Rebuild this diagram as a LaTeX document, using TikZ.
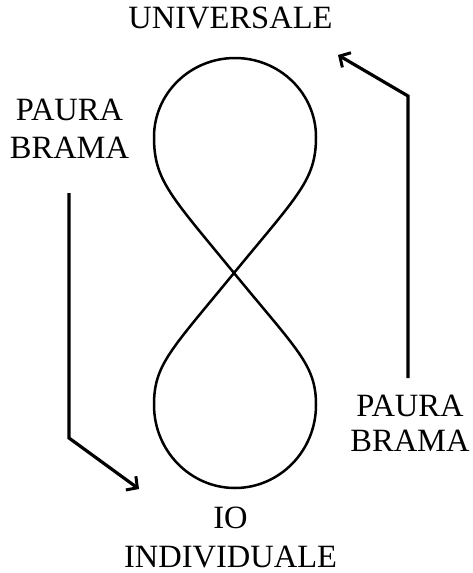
\documentclass[tikz,border=0pt]{standalone}
\usepackage{fontspec}
\setmainfont{Liberation Serif}
\usetikzlibrary{arrows.meta}
\begin{document}
\begin{tikzpicture}[x=1pt,y=-1pt,
  lbl/.style={anchor=base,inner sep=0pt,font=\fontsize{32.5}{38}\selectfont},
  eight/.style={line width=2.5pt,line join=round},
  arr/.style={line width=3.2pt,line join=miter,-{Straight Barb[length=8pt,width=17pt,line width=3pt]}}]
\useasboundingbox (0,0) rectangle (472,573);
% figure eight
\coordinate (C) at (234,273);
\coordinate (L) at (154,137);
\coordinate (T) at (235,58);
\coordinate (R) at (316,137);
\coordinate (LL) at (154,405);
\coordinate (B) at (235,488);
\coordinate (RR) at (316,405);
\draw[eight] (C) .. controls (170,195) and (154,180) .. (L)
  .. controls (154,93.4) and (190.3,58) .. (T)
  .. controls (279.7,58) and (316,93.4) .. (R)
  .. controls (316,180) and (298,195) .. (C)
  .. controls (170,351) and (154,365) .. (LL)
  .. controls (154,450.8) and (190.3,488) .. (B)
  .. controls (279.7,488) and (316,450.8) .. (RR)
  .. controls (316,365) and (298,351) .. (C) -- cycle;
% labels
\node[lbl] (univ) at (230.5,28.3) {UNIVERSALE};
\node[lbl] (pl1) at (69.5,120) {PAURA};
\node[lbl] (pl2) at (69.5,158) {BRAMA};
\node[lbl] (pr1) at (410,416.7) {PAURA};
\node[lbl] (pr2) at (410,451.7) {BRAMA};
\node[lbl] (io) at (230.5,528) {IO};
\node[lbl] (ind) at (230.5,567) {INDIVIDUALE};
% arrows
\coordinate (a1) at (69,193);
\coordinate (a2) at (69,438);
\coordinate (a3) at (139,489);
\draw[arr] (a1) -- (a2) -- (a3);
\coordinate (b1) at (408,378);
\coordinate (b2) at (408,96);
\coordinate (b3) at (338,55);
\draw[arr] (b1) -- (b2) -- (b3);
\end{tikzpicture}
\end{document}
